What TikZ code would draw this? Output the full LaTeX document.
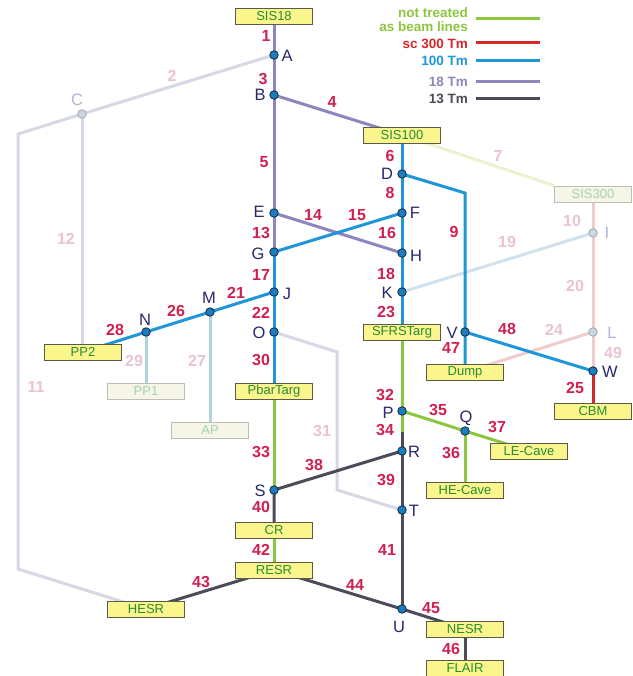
\documentclass[tikz,border=0pt]{standalone}
\usepackage{fontspec}
\setmainfont{Liberation Sans}
\usetikzlibrary{calc}
\pgfdeclarelayer{bg}
\pgfsetlayers{bg,main}
\definecolor{cgreen}{RGB}{140,198,63}
\definecolor{cred}{RGB}{215,40,40}
\definecolor{cblue}{RGB}{30,150,215}
\definecolor{cpurple}{RGB}{140,135,190}
\definecolor{cdark}{RGB}{75,75,90}
\definecolor{flav}{RGB}{215,215,230}
\definecolor{fyg}{RGB}{235,242,205}
\definecolor{fpink}{RGB}{240,205,205}
\definecolor{flb}{RGB}{210,225,235}
\definecolor{lblue}{RGB}{180,210,222}
\definecolor{numcol}{RGB}{208,32,80}
\definecolor{fnum}{RGB}{235,195,205}
\definecolor{letcol}{RGB}{40,40,110}
\definecolor{fletc}{RGB}{180,180,210}
\definecolor{boxtext}{RGB}{40,140,50}
\definecolor{fboxtext}{RGB}{165,210,175}
\definecolor{boxfill}{RGB}{250,245,140}
\definecolor{boxdraw}{RGB}{90,90,70}
\definecolor{fboxfill}{RGB}{245,245,232}
\definecolor{fboxdraw}{RGB}{190,190,180}
\definecolor{dotfill}{RGB}{25,125,190}
\definecolor{dotdraw}{RGB}{20,40,70}
\definecolor{fdotfill}{RGB}{200,215,225}
\definecolor{fdotdraw}{RGB}{160,170,180}
\tikzset{
  ln/.style={line width=3pt},
  stbox/.style={draw=boxdraw, fill=boxfill, line width=0.8pt, minimum width=77pt, minimum height=16pt, inner sep=0pt, text=boxtext, font=\fontsize{13}{13}\selectfont},
  fbox/.style={stbox, draw=fboxdraw, fill=fboxfill, text=fboxtext},
  dot/.style={circle, draw=dotdraw, fill=dotfill, line width=0.8pt, minimum size=8.5pt, inner sep=0pt},
  fdot/.style={dot, draw=fdotdraw, fill=fdotfill},
  num/.style={text=numcol, font=\fontsize{16}{16}\selectfont\bfseries, inner sep=0pt},
  fnumst/.style={num, text=fnum},
  let/.style={text=letcol, font=\fontsize{16.5}{16.5}\selectfont, inner sep=0pt},
  fletst/.style={let, text=fletc},
  leg/.style={font=\fontsize{13.5}{13.5}\selectfont\bfseries, inner sep=0pt, anchor=east}
}
\begin{document}
\begin{tikzpicture}[x=1pt,y=-1pt]
\path[use as bounding box] (0,0) rectangle (632,676);
% nodes (positions)
\node[dot] (A) at (274,55) {};
\node[dot] (B) at (274,95) {};
\node[fdot] (C) at (82,114) {};
\node[dot] (D) at (402,174) {};
\node[dot] (E) at (274,213) {};
\node[dot] (F) at (402,213) {};
\node[dot] (G) at (274,252) {};
\node[dot] (H) at (402,253) {};
\node[fdot] (I) at (593,233) {};
\node[dot] (J) at (274,292) {};
\node[dot] (K) at (402,292) {};
\node[fdot] (L) at (593,332) {};
\node[dot] (M) at (210,312) {};
\node[dot] (N) at (146,332) {};
\node[dot] (O) at (274,332) {};
\node[dot] (P) at (402,411) {};
\node[dot] (Q) at (465,431) {};
\node[dot] (R) at (402,451) {};
\node[dot] (S) at (274,490) {};
\node[dot] (T) at (402,510) {};
\node[dot] (U) at (402,609) {};
\node[dot] (V) at (465,332) {};
\node[dot] (W) at (593,371) {};
\coordinate (c2a) at (18,134);
\coordinate (c2b) at (18,569);
\coordinate (c31a) at (337,352);
\coordinate (c31b) at (337,490);
\coordinate (c9) at (465,193);
\coordinate (c34) at (402,432);
% boxes
\node[stbox] (sis18) at (274,16) {SIS18};
\node[stbox] (sis100) at (402,135) {SIS100};
\node[fbox] (sis300) at (593,194) {SIS300};
\node[stbox] (pp2) at (83,352) {PP2};
\node[fbox] (pp1) at (146,391) {PP1};
\node[fbox] (ap) at (210,430) {AP};
\node[stbox] (pbar) at (274,391) {PbarTarg};
\node[stbox] (sfrs) at (402,332) {SFRSTarg};
\node[stbox] (dump) at (465,372) {Dump};
\node[stbox] (cbm) at (593,411) {CBM};
\node[stbox] (lecave) at (529,451) {LE-Cave};
\node[stbox] (hecave) at (465,490) {HE-Cave};
\node[stbox] (cr) at (274,530) {CR};
\node[stbox] (resr) at (274,570) {RESR};
\node[stbox] (hesr) at (146,609) {HESR};
\node[stbox] (nesr) at (465,629) {NESR};
\node[stbox] (flair) at (465,668) {FLAIR};
% connectors (behind)
\begin{pgfonlayer}{bg}
\fill[white] (0,0) rectangle (632,676);
% faded
\draw[ln, flav] (A.center) -- (C.center) -- (c2a) -- (c2b) -- (hesr.center);
\draw[ln, flav] (C.center) -- (C |- pp2.center);
\draw[ln, flav] (O.center) -- (c31a) -- (c31b) -- (T.center);
\draw[ln, fyg] (sis100.center) -- (sis300.north west);
\draw[ln, fpink] (sis300.center) -- (I.center) -- (L.center) -- (W.center);
\draw[ln, fpink] (L.center) -- (dump.center);
\draw[ln, flb] (K.center) -- (I.center);
\draw[ln, lblue] (N.center) -- (pp1.center);
\draw[ln, lblue] (M.center) -- (ap.center);
% purple
\draw[ln, cpurple] (sis18.center) -- (A.center) -- (B.center) -- (E.center) -- (G.center);
\draw[ln, cpurple] (B.center) -- (sis100.center);
\draw[ln, cpurple] (E.center) -- (H.center);
% blue
\draw[ln, cblue] (G.center) -- (J.center) -- (O.center) -- (pbar.center);
\draw[ln, cblue] (G.center) -- (F.center);
\draw[ln, cblue] (sis100.center) -- (D.center) -- (F.center) -- (H.center) -- (K.center) -- (sfrs.center);
\draw[ln, cblue] (D.center) -- (c9) -- (V.center) -- (dump.center);
\draw[ln, cblue] (V.center) -- (W.center);
\draw[ln, cblue] (J.center) -- (M.center) -- (N.center) -- (pp2.center);
% red
\draw[ln, cred] (W.center) -- (cbm.center);
% green
\draw[ln, cgreen] (sfrs.center) -- (P.center) -- (c34);
\draw[ln, cgreen] (P.center) -- (Q.center) -- (lecave.center);
\draw[ln, cgreen] (Q.center) -- (hecave.center);
\draw[ln, cgreen] (pbar.center) -- (S.center);
\draw[ln, cgreen] (cr.center) -- (resr.center);
% dark
\draw[ln, cdark] (c34) -- (R.center) -- (T.center) -- (U.center);
\draw[ln, cdark] (R.center) -- (S.center) -- (cr.center);
\draw[ln, cdark] (resr.center) -- (hesr.center);
\draw[ln, cdark] (resr.center) -- (U.center) -- (nesr.center);
\draw[ln, cdark] (nesr.center) -- (flair.center);
\end{pgfonlayer}
% letters
\node[let] (tA) at (287,56) {A};
\node[let] (tB) at (260,95) {B};
\node[fletst] (tC) at (77,100) {C};
\node[let] (tD) at (387,174) {D};
\node[let] (tE) at (259,212) {E};
\node[let] (tF) at (415,213) {F};
\node[let] (tG) at (258,254) {G};
\node[let] (tH) at (416,256) {H};
\node[fletst] (tI) at (607,233) {I};
\node[let] (tJ) at (287,294) {J};
\node[let] (tK) at (387,293) {K};
\node[fletst] (tL) at (612,333) {L};
\node[let] (tM) at (209,298) {M};
\node[let] (tN) at (145,320) {N};
\node[let] (tO) at (259,333) {O};
\node[let] (tP) at (388,413) {P};
\node[let] (tQ) at (466,418) {Q};
\node[let] (tR) at (414,452) {R};
\node[let] (tS) at (260,491) {S};
\node[let] (tT) at (414,511) {T};
\node[let] (tU) at (399,627) {U};
\node[let] (tV) at (452,333) {V};
\node[let] (tW) at (610,372) {W};
% numbers
\node[num] (n1) at (266,36) {1};
\node[fnumst] (n2) at (172,76) {2};
\node[num] (n3) at (263,79) {3};
\node[num] (n4) at (332,102) {4};
\node[num] (n5) at (264,162) {5};
\node[num] (n6) at (390,156) {6};
\node[fnumst] (n7) at (498,156) {7};
\node[num] (n8) at (390,193) {8};
\node[num] (n9) at (454,232) {9};
\node[fnumst] (n10) at (572,221) {10};
\node[fnumst] (n11) at (36,387) {11};
\node[fnumst] (n12) at (66,239) {12};
\node[num] (n13) at (261,233) {13};
\node[num] (n14) at (313,215) {14};
\node[num] (n15) at (357,215) {15};
\node[num] (n16) at (387,233) {16};
\node[num] (n17) at (261,275) {17};
\node[num] (n18) at (386,274) {18};
\node[fnumst] (n19) at (507,242) {19};
\node[fnumst] (n20) at (575,286) {20};
\node[num] (n21) at (236,293) {21};
\node[num] (n22) at (261,313) {22};
\node[num] (n23) at (386,312) {23};
\node[fnumst] (n24) at (554,330) {24};
\node[num] (n25) at (575,388) {25};
\node[num] (n26) at (176,311) {26};
\node[fnumst] (n27) at (197,361) {27};
\node[num] (n28) at (115,330) {28};
\node[fnumst] (n29) at (134,361) {29};
\node[num] (n30) at (261,360) {30};
\node[fnumst] (n31) at (322,431) {31};
\node[num] (n32) at (385,395) {32};
\node[num] (n33) at (261,452) {33};
\node[num] (n34) at (385,430) {34};
\node[num] (n35) at (438,410) {35};
\node[num] (n36) at (451,453) {36};
\node[num] (n37) at (497,427) {37};
\node[num] (n38) at (314,465) {38};
\node[num] (n39) at (386,480) {39};
\node[num] (n40) at (261,507) {40};
\node[num] (n41) at (387,550) {41};
\node[num] (n42) at (261,550) {42};
\node[num] (n43) at (201,582) {43};
\node[num] (n44) at (355,585) {44};
\node[num] (n45) at (431,608) {45};
\node[num] (n46) at (451,649) {46};
\node[num] (n47) at (451,348) {47};
\node[num] (n48) at (507,329) {48};
\node[fnumst] (n49) at (613,353) {49};
% legend
\node[leg, text=cgreen] (lg1) at (468,13) {not treated};
\node[leg, text=cgreen] (lg2) at (468,27) {as beam lines};
\node[leg, text=cred] (lg3) at (468,44) {sc 300 Tm};
\node[leg, text=cblue] (lg4) at (468,61) {100 Tm};
\node[leg, text=cpurple] (lg5) at (468,82) {18 Tm};
\node[leg, text=cdark] (lg6) at (468,99) {13 Tm};
\coordinate (e1a) at (476,19); \coordinate (e1b) at (540,19);
\coordinate (e2a) at (476,43); \coordinate (e2b) at (540,43);
\coordinate (e3a) at (476,61); \coordinate (e3b) at (540,61);
\coordinate (e4a) at (476,82); \coordinate (e4b) at (540,82);
\coordinate (e5a) at (476,99); \coordinate (e5b) at (540,99);
\draw[ln, cgreen] (e1a) -- (e1b);
\draw[ln, cred] (e2a) -- (e2b);
\draw[ln, cblue] (e3a) -- (e3b);
\draw[ln, cpurple] (e4a) -- (e4b);
\draw[ln, cdark] (e5a) -- (e5b);
\end{tikzpicture}
\end{document}
